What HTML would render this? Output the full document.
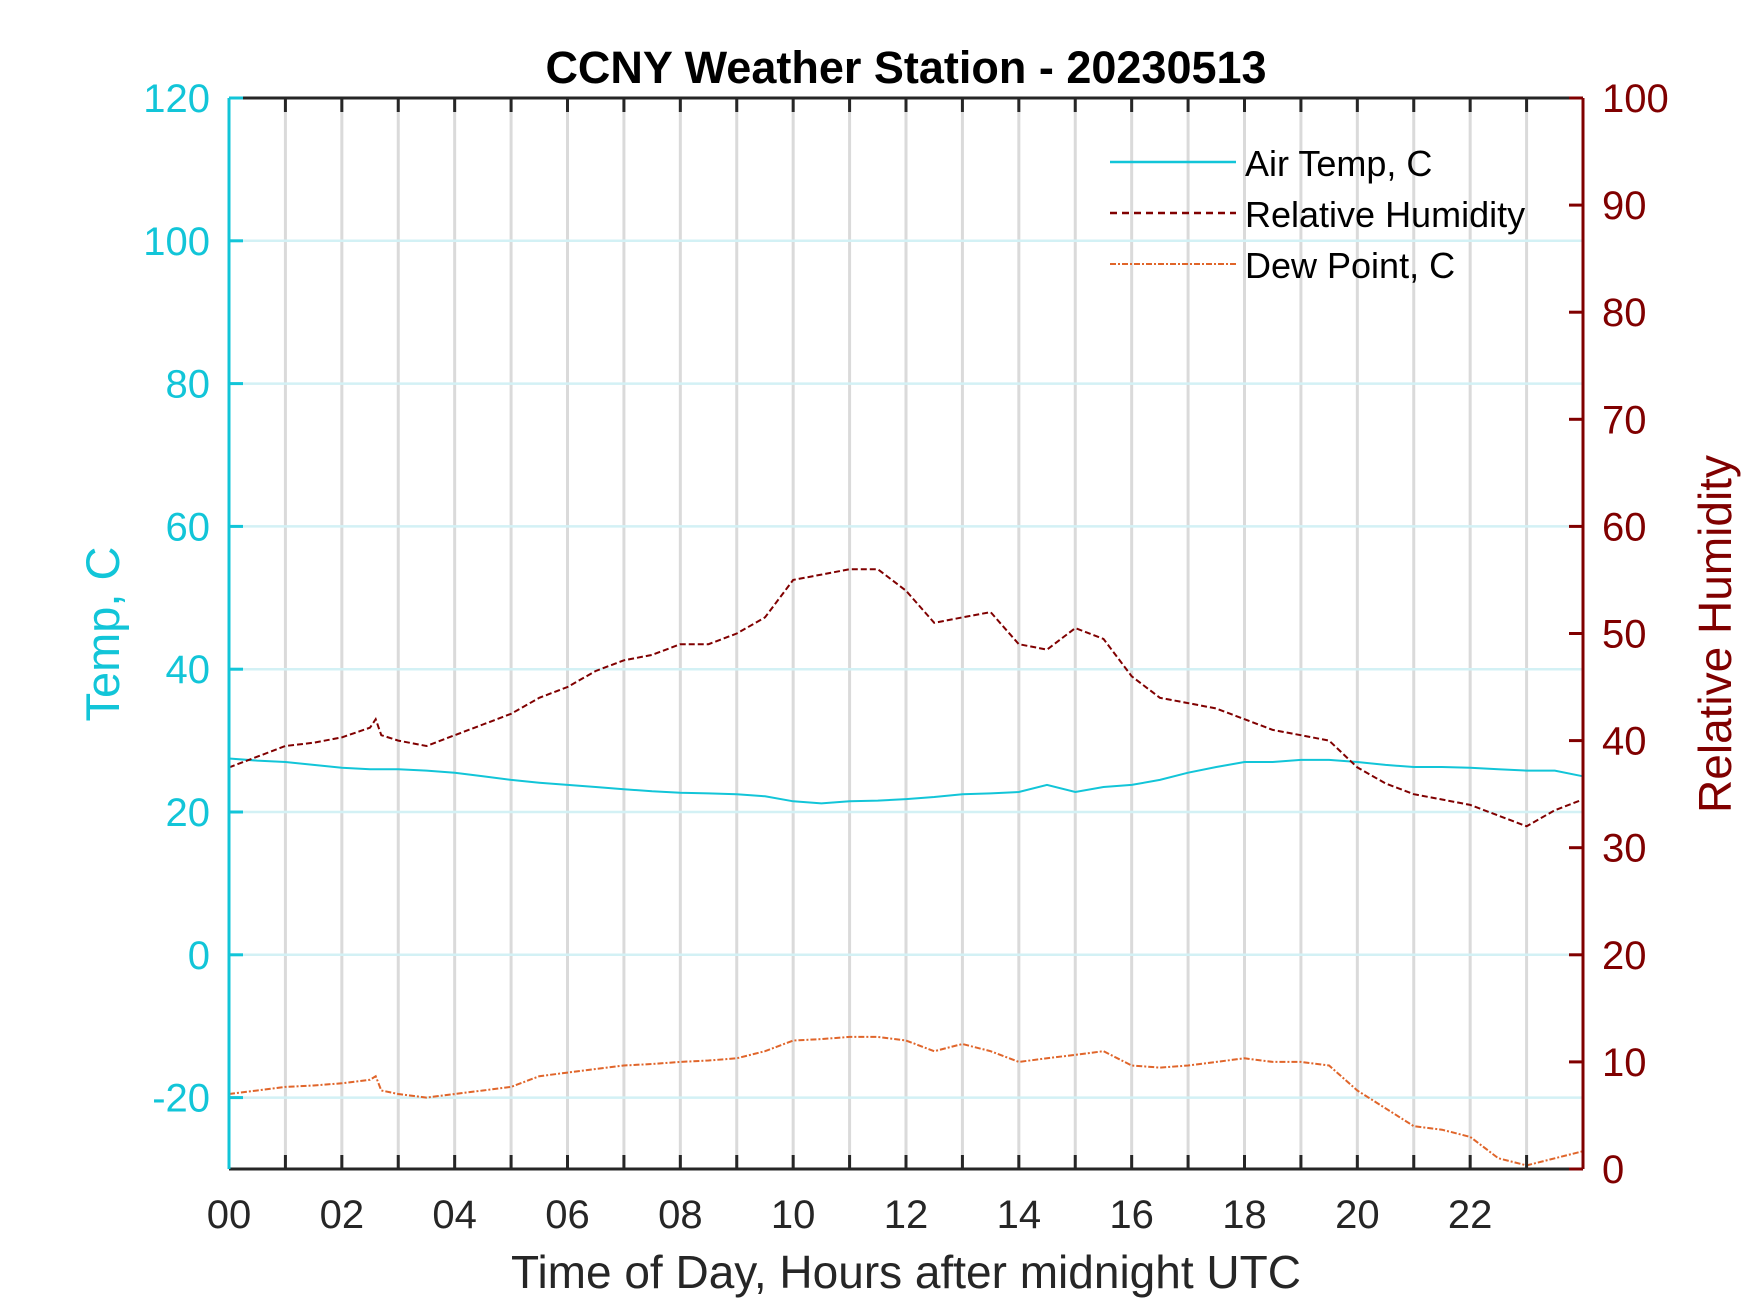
<!DOCTYPE html>
<html><head><meta charset="utf-8"><style>
html,body{margin:0;padding:0;background:#fff;}
svg{display:block;font-family:"Liberation Sans",Arial,sans-serif;}
</style></head><body>
<svg id="chart" width="1750" height="1313" viewBox="0 0 1750 1313">
<rect width="1750" height="1313" fill="#fff"/>
<g id="grid"></g>
<g id="series"></g>
<g id="axes"></g>
<text x="906" y="83" text-anchor="middle" font-size="45" font-weight="bold" fill="#000">CCNY Weather Station - 20230513</text>
<text x="906" y="1288" text-anchor="middle" font-size="46" fill="#262626">Time of Day, Hours after midnight UTC</text>
<text transform="translate(119,634) rotate(-90)" text-anchor="middle" font-size="47" fill="#12c5d8">Temp, C</text>
<text transform="translate(1731,634) rotate(-90)" text-anchor="middle" font-size="46" fill="#800000">Relative Humidity</text>
<g>
<g><line x1="1110" y1="162" x2="1236" y2="162" stroke="#12c5d8" stroke-width="2.5"/><text x="1245" y="176" font-size="36" fill="#000">Air Temp, C</text></g>
<g><line x1="1110" y1="213" x2="1236" y2="213" stroke="#800000" stroke-width="2.5" stroke-dasharray="7,5"/><text x="1245" y="227" font-size="36" fill="#000">Relative Humidity</text></g>
<g><line x1="1110" y1="264" x2="1236" y2="264" stroke="#e0652a" stroke-width="2" stroke-dasharray="6,2,2,2"/><text x="1245" y="278" font-size="36" fill="#000">Dew Point, C</text></g>
</g>
</svg>
<script>
const hours = [0,0.5,1,1.5,2,2.5,2.6,2.7,3,3.5,4,4.5,5,5.5,6,6.5,7,7.5,8,8.5,9,9.5,10,10.5,11,11.5,12,12.5,13,13.5,14,14.5,15,15.5,16,16.5,17,17.5,18,18.5,19,19.5,20,20.5,21,21.5,22,22.5,23,23.5,24];
const airTemp = [27.5,27.2,27,26.6,26.2,26,26,26,26,25.8,25.5,25,24.5,24.1,23.8,23.5,23.2,22.9,22.7,22.6,22.5,22.2,21.5,21.2,21.5,21.6,21.8,22.1,22.5,22.6,22.8,23.8,22.8,23.5,23.8,24.5,25.5,26.3,27,27,27.3,27.3,27,26.6,26.3,26.3,26.2,26,25.8,25.8,25];
const humidity = [37.5,38.5,39.5,39.8,40.3,41.2,42,40.5,40,39.5,40.5,41.5,42.5,44,45,46.5,47.5,48,49,49,50,51.5,55,55.5,56,56,54,51,51.5,52,49,48.5,50.5,49.5,46,44,43.5,43,42,41,40.5,40,37.5,36,35,34.5,34,33,32,33.5,34.5];
const dewPoint = [-19.5,-19,-18.5,-18.3,-18,-17.5,-17,-19,-19.5,-20,-19.5,-19,-18.5,-17,-16.5,-16,-15.5,-15.3,-15,-14.8,-14.5,-13.5,-12,-11.8,-11.5,-11.5,-12,-13.5,-12.5,-13.5,-15,-14.5,-14,-13.5,-15.5,-15.8,-15.5,-15,-14.5,-15,-15,-15.5,-19,-21.5,-24,-24.5,-25.5,-28.5,-29.5,-28.5,-27.5];
const xTicks = ["00","02","04","06","08","10","12","14","16","18","20","22"];
const leftTicks = [-20,0,20,40,60,80,100,120];
const rightTicks = [0,10,20,30,40,50,60,70,80,90,100];

const X0=229,X1=1583,Y0=98,Y1=1169;
const xs=h=>X0+(h/24)*(X1-X0);
const yl=v=>Y1-(v+30)/150*(Y1-Y0);
const yr=v=>Y1-v/100*(Y1-Y0);
const NS="http://www.w3.org/2000/svg";
function mk(tag,attrs,parent){const e=document.createElementNS(NS,tag);for(const k in attrs)e.setAttribute(k,attrs[k]);parent.appendChild(e);return e;}
const grid=document.getElementById('grid'),series=document.getElementById('series'),axes=document.getElementById('axes');

for(let h=1;h<24;h++){
  const g=mk('line',{x1:xs(h),x2:xs(h),y1:Y0,y2:Y1,stroke:'#dadada','stroke-width':3},grid);
  
  
}
leftTicks.forEach(v=>{
  if(v===120)return;
  const g=mk('line',{x1:X0,x2:X1,y1:yl(v),y2:yl(v),stroke:'#d3f1f5','stroke-width':2.5},grid);
  
  
});

function path(vals,yf,attrs,name){
  const d=vals.map((v,i)=>(i?'L':'M')+xs(hours[i]).toFixed(1)+','+yf(v).toFixed(1)).join('');
  const p=mk('path',Object.assign({d:d,fill:'none'},attrs),series);
  
  
}
path(airTemp,yl,{stroke:'#12c5d8','stroke-width':2},'air-temp-line');
path(humidity,yr,{stroke:'#800000','stroke-width':2,'stroke-dasharray':'6,3'},'humidity-line');
path(dewPoint,yl,{stroke:'#e0652a','stroke-width':2,'stroke-dasharray':'6,2,2,2'},'dew-point-line');

mk('line',{x1:X0,x2:X1,y1:Y0,y2:Y0,stroke:'#262626','stroke-width':3},axes);
mk('line',{x1:X0,x2:X1,y1:Y1,y2:Y1,stroke:'#262626','stroke-width':3},axes);
mk('line',{x1:X0,x2:X0,y1:Y0,y2:Y1,stroke:'#12c5d8','stroke-width':3},axes);
mk('line',{x1:X1,x2:X1,y1:Y0,y2:Y1,stroke:'#800000','stroke-width':3},axes);
for(let h=1;h<24;h++){
  mk('line',{x1:xs(h),x2:xs(h),y1:Y1,y2:Y1-14,stroke:'#262626','stroke-width':3},axes);
  mk('line',{x1:xs(h),x2:xs(h),y1:Y0,y2:Y0+14,stroke:'#262626','stroke-width':3},axes);
}
xTicks.forEach((t,i)=>{
  const e=mk('text',{x:xs(i*2),y:1228,'text-anchor':'middle','font-size':40,fill:'#262626'},axes);
  e.textContent=t;
  
  
});
leftTicks.forEach(v=>{
  mk('line',{x1:X0,x2:X0+14,y1:yl(v),y2:yl(v),stroke:'#12c5d8','stroke-width':3},axes);
  const e=mk('text',{x:210,y:yl(v)+14,'text-anchor':'end','font-size':40,fill:'#12c5d8'},axes);
  e.textContent=v;
  
  
});
rightTicks.forEach(v=>{
  mk('line',{x1:X1,x2:X1-14,y1:yr(v),y2:yr(v),stroke:'#800000','stroke-width':3},axes);
  const e=mk('text',{x:1602,y:yr(v)+14,'text-anchor':'start','font-size':40,fill:'#800000'},axes);
  e.textContent=v;
  
  
});
</script>
</body></html>
